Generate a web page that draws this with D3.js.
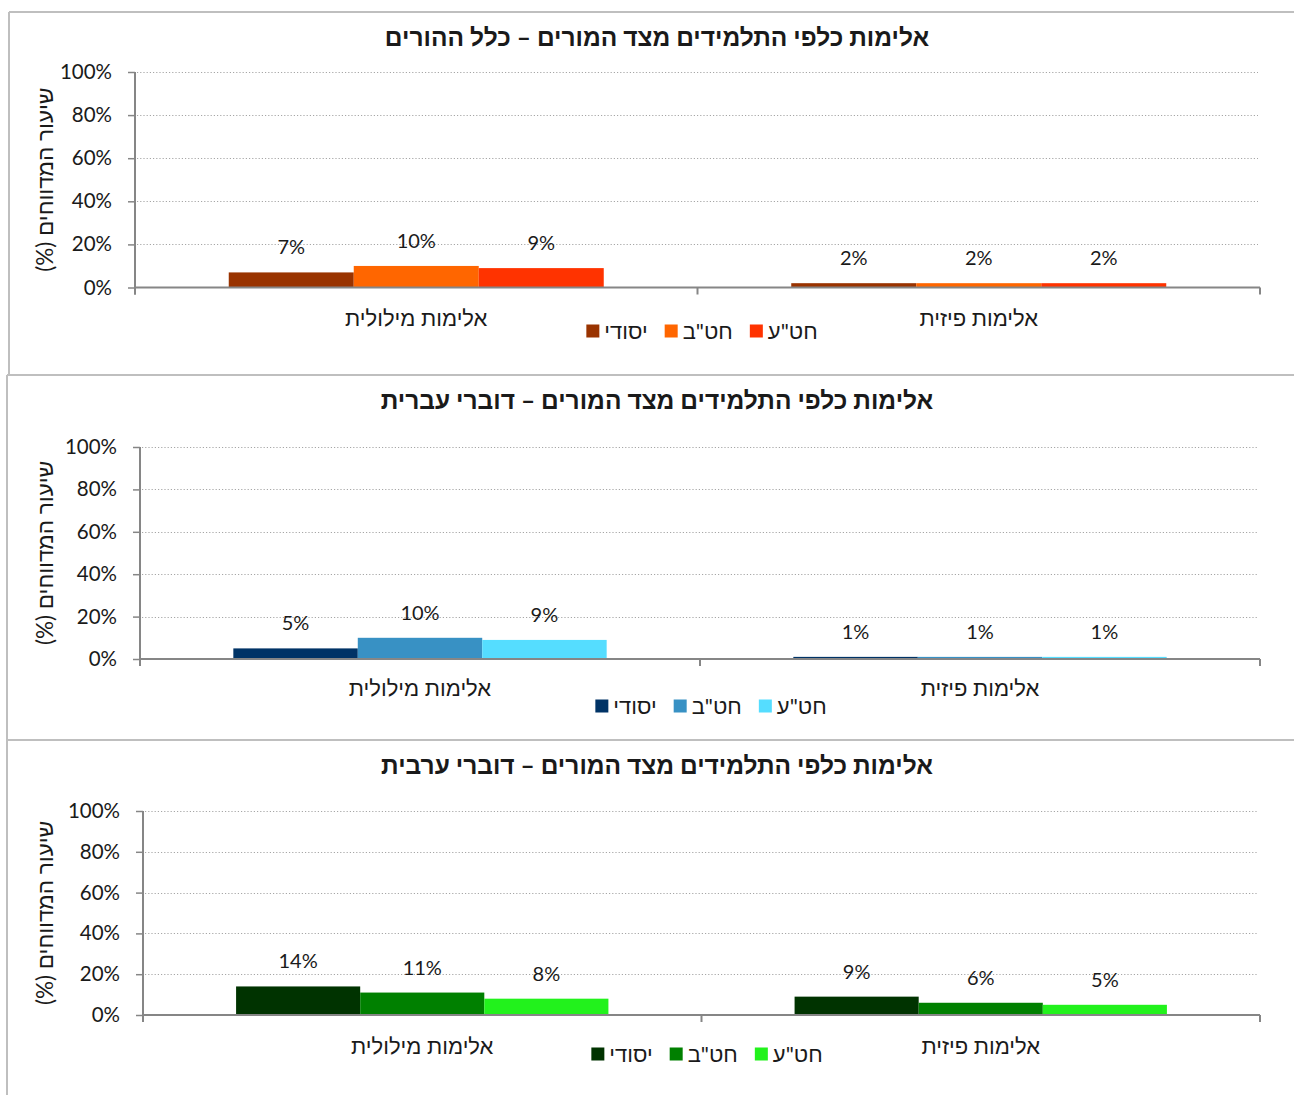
<!DOCTYPE html>
<html><head><meta charset="utf-8">
<script src="https://cdn.jsdelivr.net/npm/d3@7"></script>
<style>
body{margin:0;background:#fff;}
text{font-family:Lato,"Liberation Sans",sans-serif;fill:#1a1a1a;}
</style></head>
<body><svg id="c" width="1294" height="1095"></svg>
<script>
const categories = ["אלימות מילולית", "אלימות פיזית"];
const seriesNames = ["יסודי", "חט\"ב", "חט\"ע"];
const yTicks = [0, 20, 40, 60, 80, 100];
const yAxisTitle = "שיעור המדווחים (%)";
const titles = [
  "אלימות כלפי התלמידים מצד המורים – כלל ההורים",
  "אלימות כלפי התלמידים מצד המורים – דוברי עברית",
  "אלימות כלפי התלמידים מצד המורים – דוברי ערבית"
];
// values per panel: [series][category]
const allParents = [[7, 2], [10, 2], [9, 2]];
const hebrewSpeakers = [[5, 1], [10, 1], [9, 1]];
const arabicSpeakers = [[14, 9], [11, 6], [8, 5]];
const colorsAll = ["#993300", "#FF6600", "#FF3300"];
const colorsHeb = ["#003366", "#3891C4", "#55DDFF"];
const colorsAra = ["#003300", "#008000", "#22F21C"];

const panels = [
  {values: allParents, colors: colorsAll, title: titles[0],
   box: {top: 12, left: 9}, plot: {l: 135, r: 1260, t: 72, b: 287.5},
   titleY: 37, catY: 318, legY: 331, legX: 702},
  {values: hebrewSpeakers, colors: colorsHeb, title: titles[1],
   box: {top: 375, left: 7}, plot: {l: 140, r: 1260, t: 447, b: 659},
   titleY: 400, catY: 688, legY: 706, legX: 711},
  {values: arabicSpeakers, colors: colorsAra, title: titles[2],
   box: {top: 740, left: 7}, plot: {l: 143, r: 1260, t: 811, b: 1015},
   titleY: 765, catY: 1046, legY: 1054, legX: 707}
];

const svg = d3.select("#c");
const border = "#BFBFBF";

panels.forEach((p, i) => {
  const bottom = i < panels.length - 1 ? panels[i + 1].box.top : 1095;
  svg.append("line").attr("x1", p.box.left).attr("x2", 1294).attr("y1", p.box.top).attr("y2", p.box.top)
    .attr("stroke", border).attr("stroke-width", 2);
  svg.append("line").attr("x1", p.box.left).attr("x2", p.box.left).attr("y1", p.box.top).attr("y2", bottom)
    .attr("stroke", border).attr("stroke-width", 2);
});

panels.forEach(p => {
  const g = svg.append("g");
  const x = d3.scaleBand().domain(categories).range([p.plot.l, p.plot.r]).paddingInner(0).paddingOuter(0);
  const bw = x.bandwidth();
  const x1 = d3.scaleBand().domain(seriesNames).range([0, bw * 2 / 3]);
  const groupOff = bw / 6;
  const y = d3.scaleLinear().domain([0, 100]).range([p.plot.b, p.plot.t]);

  g.append("text").attr("x", 657).attr("y", p.titleY).attr("dy", "0.35em")
    .attr("text-anchor", "middle").style("direction", "rtl")
    .style("font-size", "24.5px").style("font-weight", "bold").text(p.title);

  g.selectAll(".grid").data(yTicks.filter(t => t > 0)).join("line")
    .attr("x1", p.plot.l + 2).attr("x2", p.plot.r - 2)
    .attr("y1", d => Math.round(y(d)) + 0.5).attr("y2", d => Math.round(y(d)) + 0.5)
    .attr("stroke", "#A6A6A6").attr("stroke-width", 1).attr("stroke-dasharray", "1.2,2");

  const yAxis = d3.axisLeft(y).tickValues(yTicks).tickFormat(d => d + "%").tickSize(7).tickPadding(16);
  const ya = g.append("g").attr("transform", `translate(${p.plot.l},0)`).call(yAxis);
  ya.select(".domain").remove();
  ya.selectAll(".tick line").attr("stroke", "#868686").attr("stroke-width", 1.5);
  ya.selectAll(".tick text").style("font-size", "20.5px").attr("fill", "#1a1a1a")
    .style("font-family", "Lato, 'Liberation Sans', sans-serif");
  g.append("line").attr("x1", p.plot.l).attr("x2", p.plot.l).attr("y1", p.plot.t).attr("y2", p.plot.b + 7)
    .attr("stroke", "#868686").attr("stroke-width", 2);

  seriesNames.forEach((s, si) => {
    g.selectAll(".bar" + si).data(categories).join("rect")
      .attr("x", c => x(c) + groupOff + x1(s))
      .attr("width", x1.bandwidth())
      .attr("y", (c, ci) => y(p.values[si][ci]))
      .attr("height", (c, ci) => p.plot.b - y(p.values[si][ci]))
      .attr("fill", p.colors[si]);
    g.selectAll(".lab" + si).data(categories).join("text")
      .attr("x", c => x(c) + groupOff + x1(s) + x1.bandwidth() / 2)
      .attr("y", (c, ci) => y(p.values[si][ci]) - 18)
      .attr("text-anchor", "middle").style("font-size", "20px")
      .text((c, ci) => p.values[si][ci] + "%");
  });

  g.append("line").attr("x1", p.plot.l).attr("x2", p.plot.r).attr("y1", p.plot.b).attr("y2", p.plot.b)
    .attr("stroke", "#868686").attr("stroke-width", 2);
  const bounds = [p.plot.l].concat(categories.map(c => x(c) + bw));
  g.selectAll(".xt").data(bounds).join("line")
    .attr("x1", d => d).attr("x2", d => d).attr("y1", p.plot.b).attr("y2", p.plot.b + 7)
    .attr("stroke", "#868686").attr("stroke-width", 2);
  g.selectAll(".cat").data(categories).join("text")
    .attr("x", c => x(c) + bw / 2).attr("y", p.catY).attr("dy", "0.35em")
    .attr("text-anchor", "middle").style("font-size", "22px").text(c => c);

  g.append("text").attr("transform", `translate(45,${(p.plot.t + p.plot.b) / 2}) rotate(-90)`)
    .attr("dy", "0.35em").attr("text-anchor", "middle").style("direction", "rtl")
    .style("font-size", "22.5px").text(yAxisTitle);

  const leg = g.append("g");
  const items = leg.selectAll(".li").data(seriesNames).join("g");
  items.append("rect").attr("width", 13).attr("height", 13).attr("y", -6.5).attr("fill", (d, i) => p.colors[i]);
  items.append("text").attr("x", 18).attr("dy", "0.35em").attr("text-anchor", "start")
    .style("font-size", "22px").text(d => d);
  let cx = 0;
  items.each(function () {
    const w = d3.select(this).select("text").node().getComputedTextLength();
    d3.select(this).attr("transform", `translate(${cx},0)`);
    cx += 18 + w + 17;
  });
  const total = cx - 17;
  leg.attr("transform", `translate(${p.legX - total / 2},${p.legY})`);
});
</script></body></html>
